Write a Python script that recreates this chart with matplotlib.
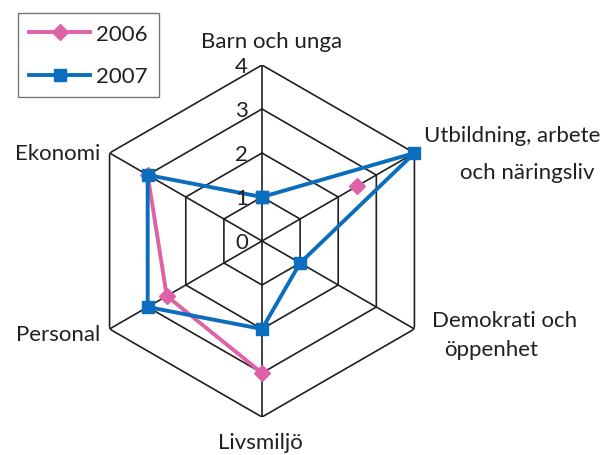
import matplotlib.pyplot as plt
import matplotlib.transforms as mtransforms
import numpy as np
from matplotlib.lines import Line2D

plt.rcParams['font.family'] = ['Lato', 'DejaVu Sans']
plt.rcParams['text.color'] = '#231f20'

# Areas around the hexagon, clockwise from the top
areas = ['Barn och unga', 'Utbildning, arbete\noch näringsliv', 'Demokrati och\nöppenhet',
         'Livsmiljö', 'Personal', 'Ekonomi']
years = ['2006', '2007']
# 2006 lacks a value for two areas
v2006 = [np.nan, 2.5, np.nan, 3, 2.5, 3]
v2007 = [1, 4, 1, 2, 3, 3]
levels = [0, 1, 2, 3, 4]

PINK = '#DD62A8'
BLUE = '#0A6EBD'
INK = '#231f20'

W, H = 604, 456
fig = plt.figure(figsize=(W / 100, H / 100), dpi=100)

# centre and outer radius of the web, in pixels
cx, cy, R = 262, 242, 176
ax = fig.add_axes([(cx - R) / W, 1 - (cy + R) / H, 2 * R / W, 2 * R / H], projection='polar')
ax.set_theta_zero_location('N')
ax.set_theta_direction(-1)
ax.set_ylim(0, 4)
ax.grid(False)
ax.set_xticks([])
ax.set_yticks([])
ax.spines['polar'].set_visible(False)
ax.patch.set_alpha(0)

n = len(areas)
theta = np.arange(n) * 2 * np.pi / n
closed = np.append(theta, theta[0])

# hexagonal rings and spokes
for lv in levels[1:]:
    ax.plot(closed, [lv] * (n + 1), color=INK, lw=1.2, zorder=1)
for t in theta:
    ax.plot([t, t], [0, 4], color=INK, lw=1.2, zorder=1)

def closed_vals(v):
    return np.append(v, v[0])

ax.plot(closed, closed_vals(v2006), color=PINK, lw=2.8, marker='D', ms=8,
        zorder=3, clip_on=False)
ax.plot(closed, closed_vals(v2007), color=BLUE, lw=2.8, marker='s', ms=8,
        zorder=4, clip_on=False)

fs = 16

# level numbers just left of the top spoke
shift = ax.transData + mtransforms.ScaledTranslation(-0.14, -0.07, fig.dpi_scale_trans)
for lv in levels:
    ax.text(0, lv, str(lv), fontsize=fs, ha='right', va='baseline',
            transform=shift, zorder=5)

def px(x, y):
    return x / W, 1 - y / H

fig.text(*px(272, 48), 'Barn och unga', fontsize=fs, ha='center', va='baseline')
fig.text(*px(600, 142), 'Utbildning, arbete', fontsize=fs, ha='right', va='baseline')
fig.text(*px(594, 179), 'och näringsliv', fontsize=fs, ha='right', va='baseline')
fig.text(*px(577, 327), 'Demokrati och', fontsize=fs, ha='right', va='baseline')
fig.text(*px(538, 356), 'öppenhet', fontsize=fs, ha='right', va='baseline')
fig.text(*px(260, 449), 'Livsmiljö', fontsize=fs, ha='center', va='baseline')
fig.text(*px(100, 341), 'Personal', fontsize=fs, ha='right', va='baseline')
fig.text(*px(100, 160), 'Ekonomi', fontsize=fs, ha='right', va='baseline')

handles = [Line2D([], [], color=PINK, lw=2.8, marker='D', ms=8),
           Line2D([], [], color=BLUE, lw=2.8, marker='s', ms=8)]
leg = fig.legend(handles, years, loc='upper left', bbox_to_anchor=px(18, 14),
                 frameon=True, fancybox=False, fontsize=fs, handlelength=2.75,
                 labelspacing=1.0, borderpad=0.5, borderaxespad=0,
                 handletextpad=0.25)
leg.get_frame().set_edgecolor('#555555')
leg.get_frame().set_linewidth(1.0)

fig.savefig('out.png', dpi=100)
